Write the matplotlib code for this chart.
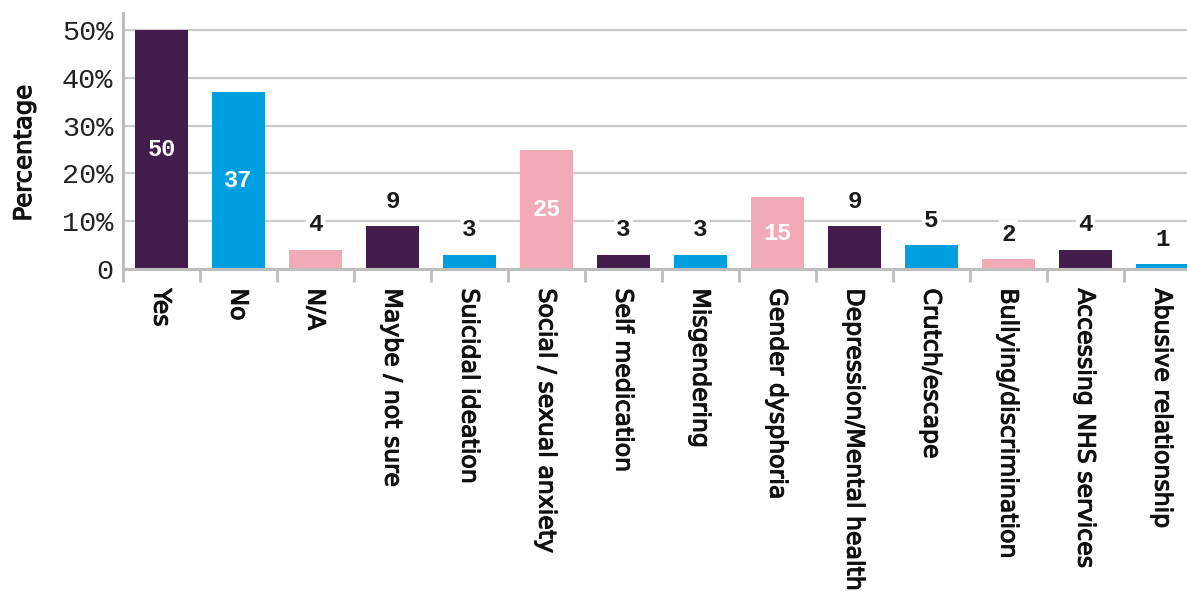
import matplotlib
matplotlib.use("Agg")
import matplotlib.pyplot as plt
import matplotlib.patheffects as pe
import numpy as np

categories = ["Yes", "No", "N/A", "Maybe / not sure", "Suicidal ideation",
              "Social / sexual anxiety", "Self medication", "Misgendering",
              "Gender dysphoria", "Depression/Mental health", "Crutch/escape",
              "Bullying/discrimination", "Accessing NHS services",
              "Abusive relationship"]
values = [50, 37, 4, 9, 3, 25, 3, 3, 15, 9, 5, 2, 4, 1]
purple = "#421d4b"
blue = "#009fe0"
pink = "#f2a9b8"
colors = [purple, blue, pink, purple, blue, pink, purple, blue, pink,
          purple, blue, pink, purple, blue]
yticks = [0, 10, 20, 30, 40, 50]
yticklabels = ["0", "10%", "20%", "30%", "40%", "50%"]

sans = ["Liberation Sans Narrow", "DejaVu Sans"]
mono = ["Liberation Mono", "DejaVu Sans Mono"]
grey = "#bdbdbd"
ink = "#111111"
thick = [pe.withStroke(linewidth=0.8, foreground=ink)]

fig = plt.figure(figsize=(11.87, 6.01), dpi=100)
ax = fig.add_axes([123 / 1187, 1 - 269 / 601, 14 * 77 / 1187, (269 - 13) / 601])

x = np.arange(len(categories))
bars = ax.bar(x, values, width=0.69, color=colors, zorder=2)

ax.set_xlim(-0.5, len(categories) - 0.5)
ax.set_ylim(0, 53.6)

for xi, v in zip(x, values):
    if v >= 15:
        ax.text(xi, v / 2, str(v), ha="center", va="center", color="white",
                fontsize=17, fontweight="bold", family=mono, zorder=3)
    else:
        ax.annotate(str(v), xy=(xi, v), xytext=(0, 25), textcoords="offset pixels",
                    ha="center", va="center", color="#1a1a1a", fontsize=17.5,
                    fontweight="bold", family=mono, zorder=3,
                    bbox=dict(facecolor="white", edgecolor="none", pad=2))

ax.set_yticks(yticks)
ax.set_yticklabels(yticklabels, family=mono, fontsize=20.5, color="#222222")
ax.tick_params(axis="y", length=0, pad=7)
ax.yaxis.grid(True, color="#cccccc", linewidth=1.6, zorder=0)
ax.set_axisbelow(True)

ax.set_xticks(x)
ax.set_xticklabels(categories, rotation=270, family=sans, fontsize=17,
                   color=ink, va="top", ha="center")
for lab in ax.get_xticklabels():
    lab.set_path_effects(thick)
ax.tick_params(axis="x", which="major", length=0, pad=14)
ax.set_xticks(np.arange(-0.5, len(categories), 1.0), minor=True)
ax.tick_params(axis="x", which="minor", length=9, width=2, color=grey)

for s in ["top", "right"]:
    ax.spines[s].set_visible(False)
for s in ["left", "bottom"]:
    ax.spines[s].set_color(grey)
    ax.spines[s].set_linewidth(2.2)

fig.text(24 / 1187, 1 - 153 / 601, "Percentage", rotation=90, ha="center",
         va="center", family=sans, fontsize=17.5, color=ink, path_effects=thick)

fig.savefig("out.png", dpi=100)
